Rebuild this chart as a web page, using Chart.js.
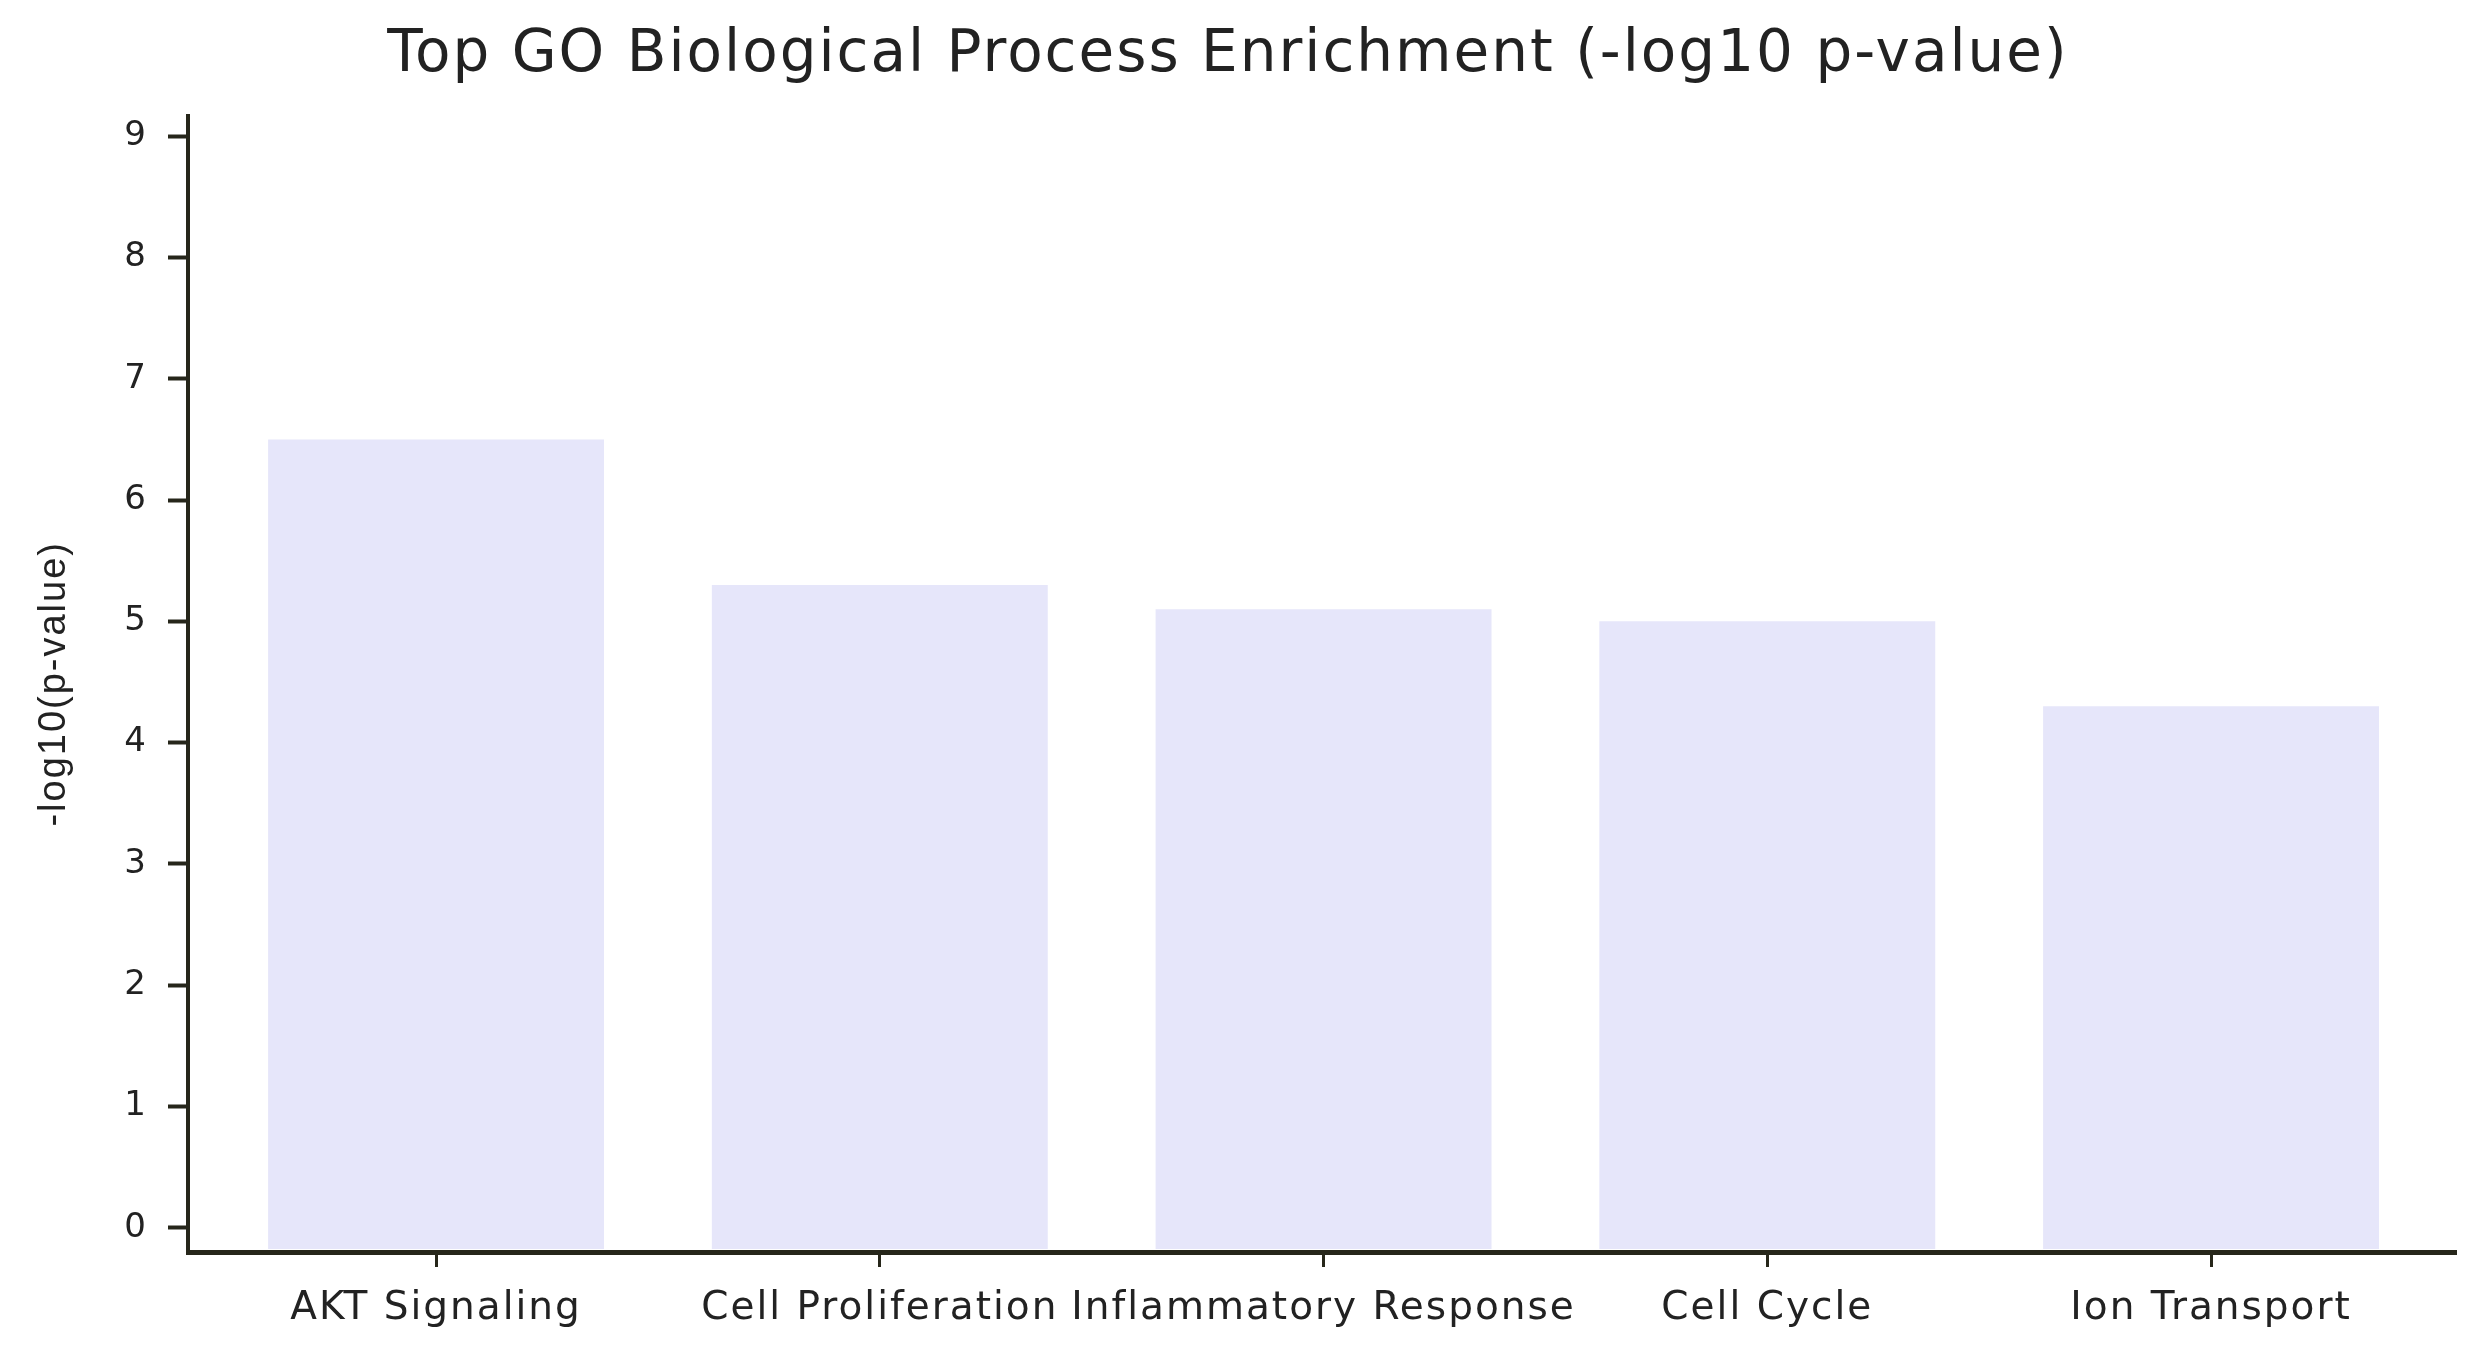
<!DOCTYPE html>
<html>
<head>
<meta charset="utf-8">
<script src="https://cdn.jsdelivr.net/npm/chart.js@4"></script>
<style>
  html, body { margin: 0; padding: 0; background: #ffffff; }
  #wrap { width: 2479px; height: 1361px; position: relative; }
</style>
</head>
<body>
<div id="wrap"><canvas id="c"></canvas></div>
<script>
const titleText = "Top GO Biological Process Enrichment (-log10 p-value)";
const yAxisLabel = "-log10(p-value)";
const categories = ["AKT Signaling", "Cell Proliferation", "Inflammatory Response", "Cell Cycle", "Ion Transport"];
const values = [6.5, 5.3, 5.1, 5.0, 4.3];
const yTicks = [0, 1, 2, 3, 4, 5, 6, 7, 8, 9];

const axisColor = "#26261a";
const textColor = "#222222";
const barColor = "#e6e6fa";

const points = categories.map((c, i) => ({ x: i, y: values[i] }));

const spacingPlugin = {
  id: "spacing",
  beforeDraw(chart) { chart.ctx.letterSpacing = "2px"; }
};

new Chart(document.getElementById("c"), {
  type: "bar",
  data: {
    datasets: [{
      data: points,
      backgroundColor: barColor,
      borderWidth: 0,
      base: -0.175,
      categoryPercentage: 1.0,
      barPercentage: 0.757
    }]
  },
  plugins: [spacingPlugin],
  options: {
    responsive: true,
    maintainAspectRatio: false,
    devicePixelRatio: 1,
    animation: false,
    layout: { padding: { left: 0, right: 23, top: 0, bottom: 0 } },
    plugins: {
      legend: { display: false },
      tooltip: { enabled: false },
      title: {
        display: true,
        text: titleText,
        color: textColor,
        font: { family: "'DejaVu Sans'", size: 58, weight: "normal" },
        padding: { top: 21, bottom: 25 }
      }
    },
    scales: {
      x: {
        type: "linear",
        min: -0.559,
        max: 4.552,
        offset: false,
        afterBuildTicks: (scale) => {
          scale.ticks = categories.map((c, i) => ({ value: i }));
        },
        afterFit: (scale) => { scale.height = 109; },
        ticks: {
          autoSkip: false,
          maxRotation: 0,
          minRotation: 0,
          padding: 18,
          color: textColor,
          font: { family: "'DejaVu Sans'", size: 39 },
          callback: (v) => categories[v] !== undefined ? categories[v] : ""
        },
        grid: {
          display: true,
          offset: false,
          drawOnChartArea: false,
          drawTicks: true,
          tickLength: 15,
          tickWidth: 3,
          tickColor: axisColor
        },
        border: { display: true, color: axisColor, width: 5, z: 1 }
      },
      y: {
        min: -0.2,
        max: 9.17,
        afterBuildTicks: (scale) => {
          scale.ticks = yTicks.map(v => ({ value: v }));
        },
        afterFit: (scale) => { scale.width = 188; },
        ticks: {
          padding: 20,
          color: textColor,
          font: { family: "'DejaVu Sans'", size: 34 }
        },
        grid: {
          display: true,
          drawOnChartArea: false,
          drawTicks: true,
          tickLength: 20,
          tickWidth: 4,
          tickColor: axisColor
        },
        border: { display: true, color: axisColor, width: 4 },
        title: {
          display: true,
          text: yAxisLabel,
          color: textColor,
          font: { family: "'Liberation Sans'", size: 38 },
          padding: { top: 32, bottom: 0 }
        }
      }
    }
  }
});
</script>
</body>
</html>
